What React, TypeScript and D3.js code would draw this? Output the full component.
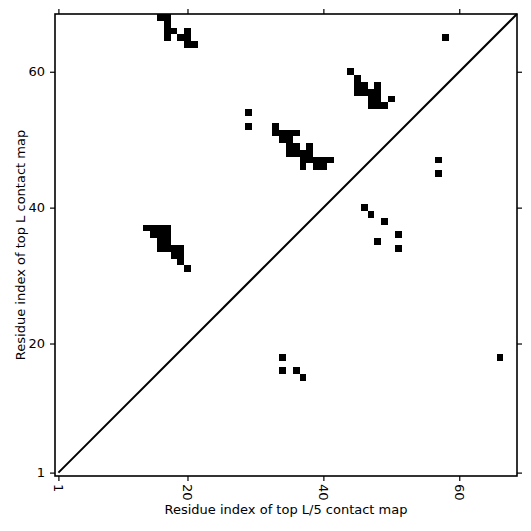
import React, { useEffect, useRef } from "react"
import * as d3 from "d3"

// sequence length
const L = 68

// upper triangle: top L predicted contacts [i, j]
const topL: [number, number][] = [
  [16, 68], [17, 68], [17, 67], [17, 66], [18, 66], [20, 66], [17, 65], [19, 65], [20, 65], [20, 64], [21, 64],
  [29, 54], [29, 52],
  [33, 52], [33, 51], [34, 51], [35, 51], [36, 51], [34, 50], [35, 50], [35, 49], [36, 49], [38, 49],
  [35, 48], [36, 48], [37, 48], [38, 48], [37, 47], [38, 47], [39, 47], [40, 47], [41, 47],
  [37, 46], [39, 46], [40, 46],
  [44, 60], [45, 59], [45, 58], [46, 58], [48, 58], [45, 57], [46, 57], [47, 57], [48, 57],
  [47, 56], [48, 56], [50, 56], [47, 55], [48, 55], [49, 55],
  [58, 65],
  [14, 37], [15, 37], [16, 37], [17, 37], [15, 36], [16, 36], [17, 36], [16, 35], [17, 35],
  [16, 34], [17, 34], [18, 34], [19, 34], [18, 33], [19, 33], [19, 32], [20, 31],
]

// lower triangle: top L/5 contacts [i, j]
const topL5: [number, number][] = [
  [57, 47], [57, 45], [46, 40], [47, 39], [49, 38], [51, 36], [48, 35], [51, 34],
  [34, 18], [34, 16], [36, 16], [37, 15], [66, 18],
]

const ticks = [1, 20, 40, 60]

const App: React.FC = () => {
  const svgRef = useRef<SVGSVGElement | null>(null)

  useEffect(() => {
    const width = 531
    const height = 531
    const left = 55
    const right = 517
    const top = 14
    const bottom = 476
    const font = "DejaVu Sans, sans-serif"

    const svg = d3.select(svgRef.current).attr("width", width).attr("height", height)
    svg.selectAll("*").remove()

    const x = d3.scaleLinear().domain([0.5, L + 0.5]).range([left, right])
    const y = d3.scaleLinear().domain([0.5, L + 0.5]).range([bottom, top])
    const cell = x(1) - x(0)

    svg.append("rect").attr("width", width).attr("height", height).attr("fill", "white")

    // contact cells
    const cells = [...topL, ...topL5]
    svg
      .selectAll(".cell")
      .data(cells)
      .enter()
      .append("rect")
      .attr("class", "cell")
      .attr("x", (d) => x(d[0]) - cell / 2)
      .attr("y", (d) => y(d[1]) - cell / 2)
      .attr("width", cell)
      .attr("height", cell)
      .attr("fill", "black")
      .attr("shape-rendering", "crispEdges")

    // diagonal
    svg
      .append("line")
      .attr("x1", x(1))
      .attr("y1", y(1))
      .attr("x2", x(L + 0.5))
      .attr("y2", y(L + 0.5))
      .attr("stroke", "black")
      .attr("stroke-width", 2)

    // frame
    svg
      .append("rect")
      .attr("x", left)
      .attr("y", top)
      .attr("width", right - left)
      .attr("height", bottom - top)
      .attr("fill", "none")
      .attr("stroke", "black")
      .attr("stroke-width", 1.6)

    // axes, ticks on all sides
    const tickLen = 5
    const bottomAxis = d3.axisBottom(x).tickValues(ticks).tickSize(tickLen).tickPadding(4)
    const bAxis = svg.append("g").attr("transform", `translate(0,${bottom})`).call(bottomAxis)
    bAxis
      .selectAll("text")
      .attr("transform", "rotate(90)")
      .attr("text-anchor", "start")
      .attr("x", 8)
      .attr("y", 0)
      .attr("dy", "0.35em")

    const lAxis = svg
      .append("g")
      .attr("transform", `translate(${left},0)`)
      .call(d3.axisLeft(y).tickValues(ticks).tickSize(tickLen).tickPadding(5))

    const tAxis = svg
      .append("g")
      .attr("transform", `translate(0,${top})`)
      .call(d3.axisTop(x).tickValues(ticks).tickSize(tickLen).tickFormat(() => ""))

    const rAxis = svg
      .append("g")
      .attr("transform", `translate(${right},0)`)
      .call(d3.axisRight(y).tickValues(ticks).tickSize(tickLen).tickFormat(() => ""))

    for (const g of [bAxis, lAxis, tAxis, rAxis]) {
      g.select(".domain").remove()
      g.selectAll("line").attr("stroke", "black").attr("stroke-width", 1.2)
      g.selectAll("text").attr("fill", "black").attr("font-size", 13).attr("font-family", font)
    }

    // axis titles
    svg
      .append("text")
      .attr("x", (left + right) / 2)
      .attr("y", 514)
      .attr("text-anchor", "middle")
      .attr("font-size", 13)
      .attr("font-family", font)
      .text("Residue index of top L/5 contact map")

    svg
      .append("text")
      .attr("transform", `translate(25,${(top + bottom) / 2}) rotate(-90)`)
      .attr("text-anchor", "middle")
      .attr("font-size", 13)
      .attr("font-family", font)
      .text("Residue index of top L contact map")
  }, [])

  return <svg ref={svgRef} style={{ position: "fixed", left: 0, top: 0, display: "block" }}></svg>
}

export default App
